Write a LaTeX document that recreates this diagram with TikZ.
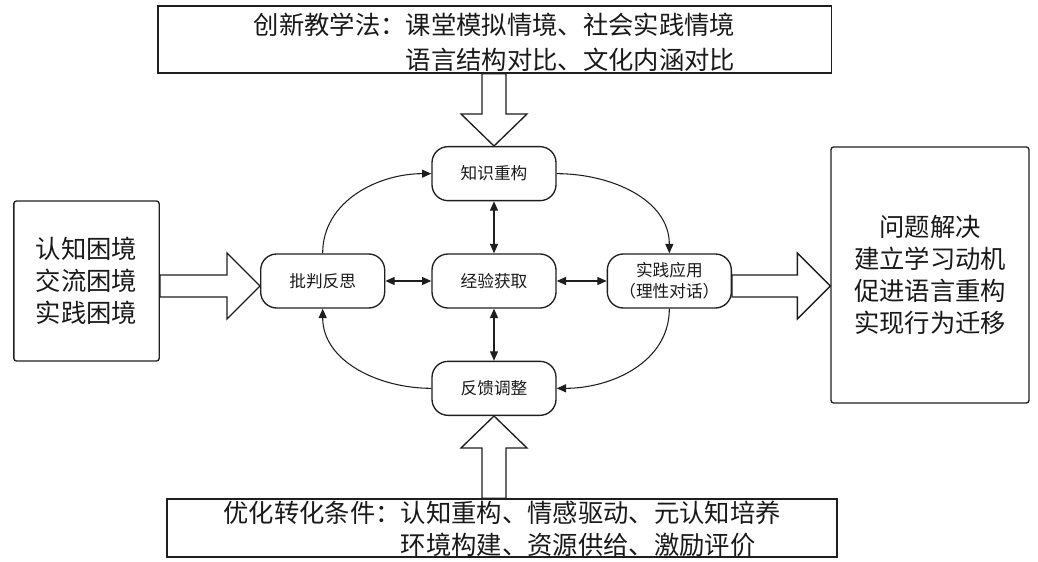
\documentclass[tikz,border=0pt]{standalone}
\usepackage{fontspec}
\usepackage{xcolor}
\usetikzlibrary{positioning,arrows.meta,calc}
\newfontfamily\cjk{Noto Sans CJK SC}
\definecolor{tfstroke}{RGB}{30,30,30}
\definecolor{tftext}{RGB}{25,25,25}
\tikzset{
  big/.style={font=\cjk\fontsize{19}{24}\selectfont, text=tftext},
  stage/.style={
    draw=tfstroke, rounded corners=12pt, line width=1pt, align=center,
    minimum width=93pt, minimum height=40.5pt, inner sep=2pt,
    font=\cjk\fontsize{12.5}{15.75}\selectfont, text=tftext
  },
  panel/.style={big, draw=tfstroke, line width=1pt, align=left, inner sep=0pt},
  sidebox/.style={big, draw=tfstroke, rounded corners=2pt, line width=1pt, align=center, inner sep=0pt},
  blockarrow/.style={draw=tfstroke, fill=white, line width=1pt, line join=miter},
  ar/.style={-{Triangle[length=7pt,width=6pt]}, draw=tfstroke, line width=0.8pt},
  bi/.style={{Triangle[length=7pt,width=6pt]}-{Triangle[length=7pt,width=6pt]}, draw=tfstroke, line width=0.8pt},
}
\begin{document}
\begin{tikzpicture}[x=0.75pt, y=0.75pt]
  \useasboundingbox (0,0) rectangle (1038,561);

  % ===== cycle of stages round the centre =====
  \node[stage] (exp) at (494,280) {经验获取};
  \node[stage, above=39pt of exp] (know) {知识重构};
  \node[stage, below=39pt of exp] (feed) {反馈调整};
  \node[stage, left=34.5pt of exp] (crit) {批判反思};
  \node[stage, right=37.5pt of exp] (prac) {实践应用\\（理性对话）};

  % ===== outer boxes =====
  \node[panel, minimum width=505pt, text height=47.7pt, text depth=2.5pt,
    font=\cjk\fontsize{19}{26}\selectfont] (topbox) at (494.5,521.5)
    {创新教学法：课堂模拟情境、社会实践情境\\\phantom{创新教学法：}语言结构对比、文化内涵对比};
  \node[panel, minimum width=502.5pt, text height=41.7pt, text depth=1.8pt] (bottombox) at (502,33)
    {优化转化条件：认知重构、情感驱动、元认知培养\\\phantom{优化转化条件：}环境构建、资源供给、激励评价};
  \node[sidebox, minimum width=109pt, minimum height=120pt] (leftbox) at (86.5,280)
    {认知困境\\交流困境\\实践困境};
  \node[sidebox, minimum width=148.5pt, minimum height=192pt] (rightbox) at (930,286)
    {问题解决\\建立学习动机\\促进语言重构\\实现行为迁移};

  % ===== block arrows =====
  \coordinate (tl) at ($(know.north)+(-12,0)$);
  \coordinate (tr) at ($(know.north)+(12,0)$);
  \draw[blockarrow] (know.north) -- ++(-33,32) -- ++(21,0) -- (tl |- topbox.south)
    -- (tr |- topbox.south) -- ($(tr)+(0,32)$) -- ++(21,0) -- cycle;

  \coordinate (bl) at ($(feed.south)+(-12,0)$);
  \coordinate (br) at ($(feed.south)+(12,0)$);
  \draw[blockarrow] (feed.south) -- ++(-33,-32) -- ++(21,0) -- (bl |- bottombox.north)
    -- (br |- bottombox.north) -- ($(br)+(0,-32)$) -- ++(21,0) -- cycle;

  \coordinate (ltip) at ($(crit.west)+(0,-5)$);
  \coordinate (lu) at ($(ltip)+(0,11)$);
  \coordinate (ld) at ($(ltip)+(0,-11)$);
  \draw[blockarrow] (ltip) -- ++(-33,33) -- ++(0,-22) -- (leftbox.east |- lu)
    -- (leftbox.east |- ld) -- ($(ld)+(-33,0)$) -- ++(0,-22) -- cycle;

  \coordinate (rtip) at ($(rightbox.west |- prac.east)+(0,-5)$);
  \coordinate (ru) at ($(rtip)+(0,11)$);
  \coordinate (rd) at ($(rtip)+(0,-11)$);
  \draw[blockarrow] (rtip) -- ++(-33,33) -- ++(0,-22) -- (prac.east |- ru)
    -- (prac.east |- rd) -- ($(rd)+(-33,0)$) -- ++(0,-22) -- cycle;

  % ===== cycle edges =====
  \draw[ar] (crit.north) to[out=90, in=180] (know.west);
  \draw[ar] (know.east) to[out=0, in=90] (prac.north);
  \draw[ar] (prac.south) to[out=270, in=0] (feed.east);
  \draw[ar] (feed.west) to[out=180, in=270] (crit.south);

  % spokes to the centre
  \draw[bi] (know.south) -- (exp.north);
  \draw[bi] (exp.south) -- (feed.north);
  \draw[bi] (crit.east) -- (exp.west);
  \draw[bi] (exp.east) -- (prac.west);

\end{tikzpicture}
\end{document}
